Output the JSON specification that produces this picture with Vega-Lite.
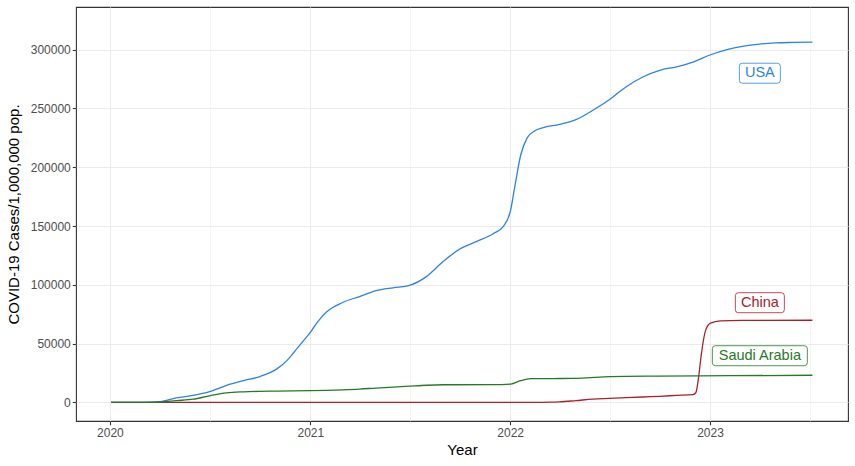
{
  "$schema": "https://vega.github.io/schema/vega-lite/v6.json",
  "width": 772,
  "height": 414,
  "autosize": {"type": "none"},
  "padding": {"left": 76, "top": 7, "right": 7, "bottom": 45},
  "background": "white",
  "config": {
    "font": "Liberation Sans",
    "view": {"stroke": "#333333", "strokeWidth": 1.1},
    "axis": {
      "domain": false,
      "labelColor": "#4D4D4D",
      "labelFontSize": 12,
      "labelFont": "Liberation Sans",
      "titleFont": "Liberation Sans",
      "titleFontSize": 15,
      "titleFontWeight": "normal",
      "titleColor": "#000000",
      "tickColor": "#333333",
      "tickSize": 3.7,
      "tickWidth": 1.1
    }
  },
  "datasets": {
    "series": [
      {"date": "2020-01-03", "country": "USA", "cases": 0},
      {"date": "2020-03-01", "country": "USA", "cases": 100},
      {"date": "2020-04-01", "country": "USA", "cases": 600},
      {"date": "2020-04-15", "country": "USA", "cases": 2000},
      {"date": "2020-05-01", "country": "USA", "cases": 3800},
      {"date": "2020-06-01", "country": "USA", "cases": 6000},
      {"date": "2020-07-01", "country": "USA", "cases": 9200},
      {"date": "2020-08-01", "country": "USA", "cases": 14500},
      {"date": "2020-09-01", "country": "USA", "cases": 18500},
      {"date": "2020-10-01", "country": "USA", "cases": 22000},
      {"date": "2020-11-01", "country": "USA", "cases": 28500},
      {"date": "2020-11-20", "country": "USA", "cases": 36000},
      {"date": "2020-12-01", "country": "USA", "cases": 42000},
      {"date": "2020-12-15", "country": "USA", "cases": 50000},
      {"date": "2021-01-01", "country": "USA", "cases": 59500},
      {"date": "2021-01-15", "country": "USA", "cases": 69000},
      {"date": "2021-02-01", "country": "USA", "cases": 77500},
      {"date": "2021-03-01", "country": "USA", "cases": 85000},
      {"date": "2021-04-01", "country": "USA", "cases": 90000},
      {"date": "2021-05-01", "country": "USA", "cases": 95000},
      {"date": "2021-06-01", "country": "USA", "cases": 97500},
      {"date": "2021-07-01", "country": "USA", "cases": 99500},
      {"date": "2021-08-01", "country": "USA", "cases": 107000},
      {"date": "2021-09-01", "country": "USA", "cases": 120000},
      {"date": "2021-10-01", "country": "USA", "cases": 130500},
      {"date": "2021-11-01", "country": "USA", "cases": 137000},
      {"date": "2021-12-01", "country": "USA", "cases": 143500},
      {"date": "2021-12-20", "country": "USA", "cases": 150000},
      {"date": "2022-01-01", "country": "USA", "cases": 162000},
      {"date": "2022-01-10", "country": "USA", "cases": 185000},
      {"date": "2022-01-20", "country": "USA", "cases": 210000},
      {"date": "2022-02-01", "country": "USA", "cases": 225000},
      {"date": "2022-02-15", "country": "USA", "cases": 231000},
      {"date": "2022-03-01", "country": "USA", "cases": 233500},
      {"date": "2022-04-01", "country": "USA", "cases": 236500},
      {"date": "2022-05-01", "country": "USA", "cases": 240500},
      {"date": "2022-06-01", "country": "USA", "cases": 248500},
      {"date": "2022-07-01", "country": "USA", "cases": 257500},
      {"date": "2022-08-01", "country": "USA", "cases": 268500},
      {"date": "2022-09-01", "country": "USA", "cases": 277000},
      {"date": "2022-10-01", "country": "USA", "cases": 282500},
      {"date": "2022-11-01", "country": "USA", "cases": 285500},
      {"date": "2022-12-01", "country": "USA", "cases": 289500},
      {"date": "2023-01-01", "country": "USA", "cases": 295500},
      {"date": "2023-02-01", "country": "USA", "cases": 300000},
      {"date": "2023-03-01", "country": "USA", "cases": 302800},
      {"date": "2023-04-01", "country": "USA", "cases": 304800},
      {"date": "2023-05-01", "country": "USA", "cases": 305800},
      {"date": "2023-06-01", "country": "USA", "cases": 306200},
      {"date": "2023-07-07", "country": "USA", "cases": 306400},

      {"date": "2020-01-03", "country": "China", "cases": 0},
      {"date": "2020-06-01", "country": "China", "cases": 60},
      {"date": "2021-06-01", "country": "China", "cases": 70},
      {"date": "2022-03-01", "country": "China", "cases": 80},
      {"date": "2022-03-15", "country": "China", "cases": 150},
      {"date": "2022-04-01", "country": "China", "cases": 400},
      {"date": "2022-05-01", "country": "China", "cases": 1500},
      {"date": "2022-06-01", "country": "China", "cases": 2800},
      {"date": "2022-07-01", "country": "China", "cases": 3400},
      {"date": "2022-08-01", "country": "China", "cases": 4000},
      {"date": "2022-09-01", "country": "China", "cases": 4600},
      {"date": "2022-10-01", "country": "China", "cases": 5200},
      {"date": "2022-11-01", "country": "China", "cases": 6000},
      {"date": "2022-12-01", "country": "China", "cases": 6700},
      {"date": "2022-12-06", "country": "China", "cases": 8200},
      {"date": "2022-12-11", "country": "China", "cases": 21000},
      {"date": "2022-12-16", "country": "China", "cases": 40500},
      {"date": "2022-12-24", "country": "China", "cases": 61500},
      {"date": "2023-01-02", "country": "China", "cases": 67500},
      {"date": "2023-01-20", "country": "China", "cases": 69300},
      {"date": "2023-03-01", "country": "China", "cases": 69700},
      {"date": "2023-07-07", "country": "China", "cases": 69900},

      {"date": "2020-01-03", "country": "Saudi Arabia", "cases": 0},
      {"date": "2020-03-01", "country": "Saudi Arabia", "cases": 0},
      {"date": "2020-04-01", "country": "Saudi Arabia", "cases": 300},
      {"date": "2020-05-01", "country": "Saudi Arabia", "cases": 1500},
      {"date": "2020-06-01", "country": "Saudi Arabia", "cases": 2700},
      {"date": "2020-07-01", "country": "Saudi Arabia", "cases": 5600},
      {"date": "2020-08-01", "country": "Saudi Arabia", "cases": 8100},
      {"date": "2020-09-01", "country": "Saudi Arabia", "cases": 9000},
      {"date": "2020-10-01", "country": "Saudi Arabia", "cases": 9400},
      {"date": "2020-11-01", "country": "Saudi Arabia", "cases": 9600},
      {"date": "2020-12-01", "country": "Saudi Arabia", "cases": 9800},
      {"date": "2021-01-01", "country": "Saudi Arabia", "cases": 10000},
      {"date": "2021-02-01", "country": "Saudi Arabia", "cases": 10300},
      {"date": "2021-03-01", "country": "Saudi Arabia", "cases": 10700},
      {"date": "2021-04-01", "country": "Saudi Arabia", "cases": 11300},
      {"date": "2021-05-01", "country": "Saudi Arabia", "cases": 12200},
      {"date": "2021-06-01", "country": "Saudi Arabia", "cases": 13000},
      {"date": "2021-07-01", "country": "Saudi Arabia", "cases": 13800},
      {"date": "2021-08-01", "country": "Saudi Arabia", "cases": 14600},
      {"date": "2021-09-01", "country": "Saudi Arabia", "cases": 15000},
      {"date": "2021-12-01", "country": "Saudi Arabia", "cases": 15100},
      {"date": "2022-01-02", "country": "Saudi Arabia", "cases": 15600},
      {"date": "2022-01-20", "country": "Saudi Arabia", "cases": 18500},
      {"date": "2022-02-07", "country": "Saudi Arabia", "cases": 20200},
      {"date": "2022-04-26", "country": "Saudi Arabia", "cases": 20400},
      {"date": "2022-05-20", "country": "Saudi Arabia", "cases": 20900},
      {"date": "2022-07-03", "country": "Saudi Arabia", "cases": 21900},
      {"date": "2022-09-27", "country": "Saudi Arabia", "cases": 22400},
      {"date": "2023-02-08", "country": "Saudi Arabia", "cases": 22700},
      {"date": "2023-07-07", "country": "Saudi Arabia", "cases": 23100}
    ],
    "labels": [
      {"date": "2023-04-02", "country": "USA", "cases": 280000},
      {"date": "2023-04-02", "country": "China", "cases": 84800},
      {"date": "2023-04-02", "country": "Saudi Arabia", "cases": 39700}
    ]
  },
  "layer": [
    {
      "data": {"name": "series"},
      "mark": {"type": "line", "strokeWidth": 1.3, "interpolate": "monotone"},
      "encoding": {
        "x": {
          "field": "date", "type": "temporal",
          "scale": {"domain": [{"year": 2019, "month": 10, "date": 31, "utc": true}, {"year": 2023, "month": 9, "date": 10, "utc": true}], "nice": false},
          "axis": {
            "title": "Year",
            "values": [
              {"year": 2020, "month": 1, "date": 1, "utc": true},
              {"year": 2020, "month": 7, "date": 2, "utc": true},
              {"year": 2021, "month": 1, "date": 1, "utc": true},
              {"year": 2021, "month": 7, "date": 2, "utc": true},
              {"year": 2022, "month": 1, "date": 1, "utc": true},
              {"year": 2022, "month": 7, "date": 2, "utc": true},
              {"year": 2023, "month": 1, "date": 1, "utc": true},
              {"year": 2023, "month": 7, "date": 2, "utc": true}
            ],
            "labelExpr": "utcmonth(datum.value) === 0 ? utcFormat(datum.value, '%Y') : ''",
            "grid": true,
            "gridColor": "#EBEBEB",
            "gridWidth": {"condition": {"test": "utcmonth(datum.value) === 0", "value": 1.1}, "value": 0.55},
            "tickOpacity": {"condition": {"test": "utcmonth(datum.value) === 0", "value": 1}, "value": 0},
            "labelPadding": 3,
            "titlePadding": 4,
            "labelFlush": false,
            "labelOverlap": false
          }
        },
        "y": {
          "field": "cases", "type": "quantitative",
          "scale": {"domain": [-15820, 336330], "nice": false, "zero": false},
          "axis": {
            "title": "COVID-19 Cases/1,000,000 pop.",
            "values": [0, 25000, 50000, 75000, 100000, 125000, 150000, 175000, 200000, 225000, 250000, 275000, 300000, 325000],
            "labelExpr": "datum.value % 50000 === 0 ? format(datum.value, 'd') : ''",
            "grid": true,
            "gridColor": "#EBEBEB",
            "gridWidth": {"condition": {"test": "datum.value % 50000 === 0", "value": 1.1}, "value": 0.55},
            "tickOpacity": {"condition": {"test": "datum.value % 50000 === 0", "value": 1}, "value": 0},
            "labelPadding": 2,
            "titlePadding": 9,
            "labelOverlap": false
          }
        },
        "color": {
          "field": "country", "type": "nominal",
          "scale": {"domain": ["USA", "China", "Saudi Arabia"], "range": ["#2B83E6", "#A8222B", "#267A26"]},
          "legend": null
        }
      }
    },
    {
      "data": {"name": "labels"},
      "mark": {"type": "point", "filled": false, "fill": "white", "fillOpacity": 1, "size": 400, "strokeWidth": 0.8, "opacity": 1},
      "encoding": {
        "x": {"field": "date", "type": "temporal"},
        "y": {"field": "cases", "type": "quantitative"},
        "stroke": {
          "field": "country", "type": "nominal",
          "scale": {"domain": ["USA", "China", "Saudi Arabia"], "range": ["#2B83E6", "#A8222B", "#267A26"]},
          "legend": null
        },
        "shape": {
          "field": "country", "type": "nominal",
          "scale": {
            "domain": ["USA", "China", "Saudi Arabia"],
            "range": [
              "M-1.75,-1L1.75,-1Q2.05,-1,2.05,-0.7L2.05,0.7Q2.05,1,1.75,1L-1.75,1Q-2.05,1,-2.05,0.7L-2.05,-0.7Q-2.05,-1,-1.75,-1Z",
              "M-2.15,-1L2.15,-1Q2.45,-1,2.45,-0.7L2.45,0.7Q2.45,1,2.15,1L-2.15,1Q-2.45,1,-2.45,0.7L-2.45,-0.7Q-2.45,-1,-2.15,-1Z",
              "M-4.45,-1L4.45,-1Q4.75,-1,4.75,-0.7L4.75,0.7Q4.75,1,4.45,1L-4.45,1Q-4.75,1,-4.75,0.7L-4.75,-0.7Q-4.75,-1,-4.45,-1Z"
            ]
          },
          "legend": null
        }
      }
    },
    {
      "data": {"name": "labels"},
      "mark": {"type": "text", "fontSize": 14.5, "font": "Liberation Sans", "align": "center", "baseline": "middle"},
      "encoding": {
        "x": {"field": "date", "type": "temporal"},
        "y": {"field": "cases", "type": "quantitative"},
        "text": {"field": "country", "type": "nominal"},
        "color": {
          "field": "country", "type": "nominal",
          "scale": {"domain": ["USA", "China", "Saudi Arabia"], "range": ["#2B83E6", "#A8222B", "#267A26"]},
          "legend": null
        }
      }
    }
  ]
}
